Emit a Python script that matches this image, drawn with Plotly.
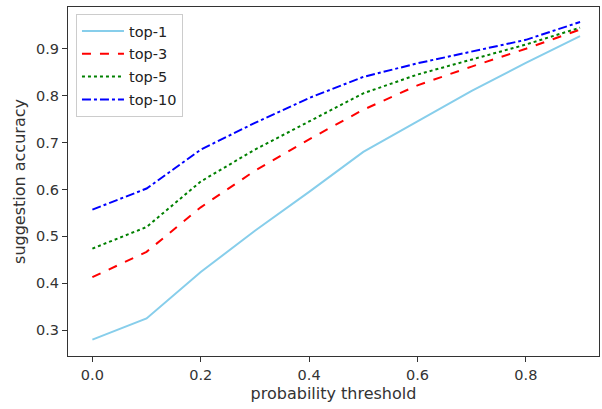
import plotly.graph_objects as go

# probability threshold
thresholds = [0.0, 0.1, 0.2, 0.3, 0.4, 0.5, 0.6, 0.7, 0.8, 0.9]

# suggestion accuracy per top-k
top1 = [0.28, 0.325, 0.424, 0.512, 0.595, 0.68, 0.745, 0.81, 0.87, 0.927]
top3 = [0.413, 0.467, 0.562, 0.64, 0.707, 0.77, 0.822, 0.862, 0.90, 0.941]
top5 = [0.474, 0.52, 0.617, 0.685, 0.745, 0.805, 0.845, 0.877, 0.909, 0.945]
top10 = [0.557, 0.602, 0.685, 0.742, 0.795, 0.84, 0.869, 0.894, 0.919, 0.957]

x_ticks = [0.0, 0.2, 0.4, 0.6, 0.8]
y_ticks = [0.3, 0.4, 0.5, 0.6, 0.7, 0.8, 0.9]

series = [
    ("top-1", top1, "skyblue", "solid"),
    ("top-3", top3, "red", "dash"),
    ("top-5", top5, "green", "dot"),
    ("top-10", top10, "blue", "dashdot"),
]

fig = go.Figure()
for name, vals, color, dash in series:
    fig.add_trace(go.Scatter(
        x=thresholds, y=vals, name=name, mode="lines", legendgroup=name,
        line=dict(color=color, dash=dash, width=2),
    ))

axis_style = dict(
    showgrid=False, zeroline=False, automargin=False,
    showline=True, linecolor="#333", linewidth=1.2, mirror=True,
    ticks="outside", ticklen=5, tickcolor="#333",
    tickfont=dict(size=14.5, color="#333"),
)

fig.update_layout(
    width=602, height=409,
    margin=dict(l=68, r=3, t=7, b=53),
    paper_bgcolor="white", plot_bgcolor="white",
    font=dict(family="DejaVu Sans", color="#333"),
    legend=dict(
        x=0.015, y=0.98, xanchor="left", yanchor="top",
        bgcolor="white", bordercolor="#ccc", borderwidth=1,
        font=dict(size=14.5, color="#222"),
        tracegroupgap=1, itemwidth=42,
    ),
    showlegend=True,
)
fig.update_xaxes(
    range=[-0.045, 0.935], tickvals=x_ticks, tickformat=".1f",
    title=dict(text="probability threshold", font=dict(size=16), standoff=6),
    **axis_style,
)
fig.update_yaxes(
    range=[0.245, 0.989], tickvals=y_ticks, tickformat=".1f",
    title=dict(text="suggestion accuracy", font=dict(size=16), standoff=6),
    **axis_style,
)

# the page body has a default 8px margin; drop it so the figure fills the window
fig.write_html(
    "out.html",
    config={"displayModeBar": False},
    post_script="document.body.style.margin = '0';",
)
